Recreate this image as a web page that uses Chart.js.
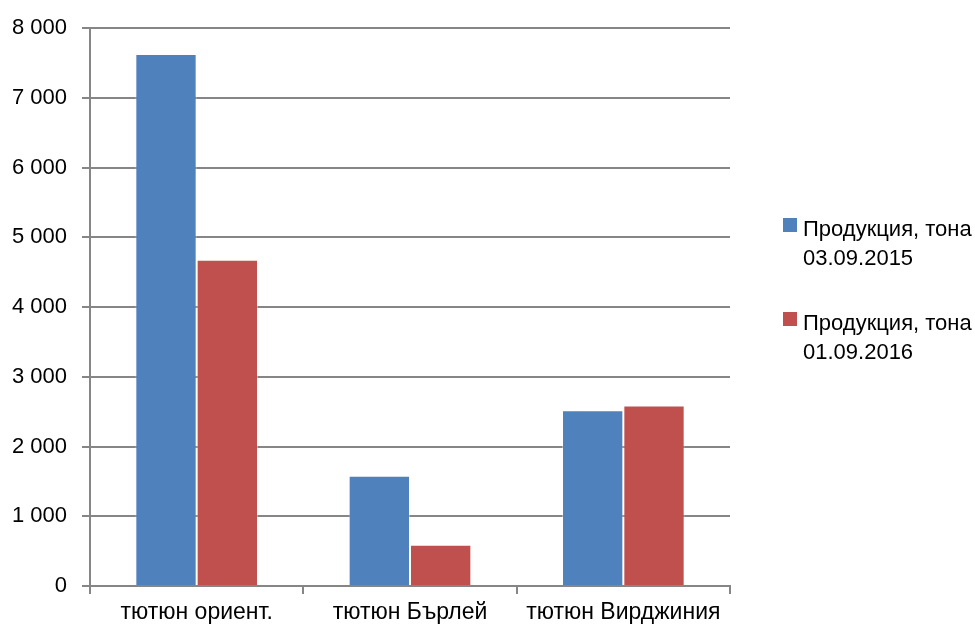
<!DOCTYPE html>
<html>
<head>
<meta charset="utf-8">
<script src="https://cdn.jsdelivr.net/npm/chart.js@4.4.1/dist/chart.umd.min.js"></script>
<style>
  html, body { margin: 0; padding: 0; background: #fff; }
  #wrap { position: relative; width: 975px; height: 632px; }
  #legend { position: absolute; left: 783px; top: 214px; font-family: "Liberation Sans", Arial, sans-serif; font-size: 22px; color: #000; line-height: 29px; white-space: nowrap; }
  .item { position: relative; padding-left: 20px; margin-bottom: 36px; }
  .box { position: absolute; left: 0; top: 4px; width: 14px; height: 14px; }
</style>
</head>
<body>
<div id="wrap">
  <canvas id="chart" width="975" height="632"></canvas>
  <div id="legend"></div>
</div>
<script>
const categories = ["тютюн ориент.", "тютюн Бърлей", "тютюн Вирджиния"];
const production2015 = [7630, 1580, 2520];
const production2016 = [4680, 590, 2590];
const seriesLabels = [
  ["Продукция, тона", "03.09.2015"],
  ["Продукция, тона", "01.09.2016"],
];
const seriesColors = ["#4F81BD", "#C0504D"];

const FONT = "'Liberation Sans', Arial, sans-serif";
const GRID = "#868686";

const formatTick = (num) => {
  return num.toString().replace(/\B(?=(\d{3})+(?!\d))/g, " ");
};

const buildLegend = () => {
  const legend = document.getElementById("legend");
  seriesLabels.forEach((lines, i) => {
    const item = document.createElement("div");
    item.className = "item";
    item.innerHTML = `<span class="box" style="background:${seriesColors[i]}"></span>${lines.join("<br>")}`;
    legend.appendChild(item);
  });
};

const ctx = document.getElementById("chart").getContext("2d");

new Chart(ctx, {
  type: "bar",
  data: {
    labels: categories,
    datasets: [
      {
        label: seriesLabels[0].join(" "),
        data: production2015,
        backgroundColor: seriesColors[0],
        borderColor: "rgba(255,255,255,0.35)",
        borderWidth: 1,
      },
      {
        label: seriesLabels[1].join(" "),
        data: production2016,
        backgroundColor: seriesColors[1],
        borderColor: "rgba(255,255,255,0.35)",
        borderWidth: 1,
      },
    ],
  },
  options: {
    responsive: false,
    animation: false,
    layout: {
      padding: { top: 27, right: 245, left: 0, bottom: 0 },
    },
    plugins: {
      legend: { display: false },
      tooltip: { enabled: false },
    },
    datasets: {
      bar: { categoryPercentage: 0.575, barPercentage: 1.0 },
    },
    scales: {
      x: {
        grid: {
          drawOnChartArea: false,
          drawTicks: true,
          tickLength: 8,
          color: GRID,
          lineWidth: 2,
        },
        border: { color: GRID, width: 2 },
        ticks: {
          color: "#000",
          font: { family: FONT, size: 23 },
          padding: 5,
        },
        afterFit: (scale) => {
          scale.height = 46;
        },
      },
      y: {
        min: 0,
        max: 8000,
        grid: {
          color: GRID,
          lineWidth: 2,
          tickLength: 8,
        },
        border: { color: GRID, width: 2 },
        ticks: {
          stepSize: 1000,
          color: "#000",
          font: { family: FONT, size: 22 },
          padding: 15,
          callback: (value) => formatTick(value),
        },
        afterFit: (scale) => {
          scale.width = 90;
        },
      },
    },
  },
});

buildLegend();
</script>
</body>
</html>
